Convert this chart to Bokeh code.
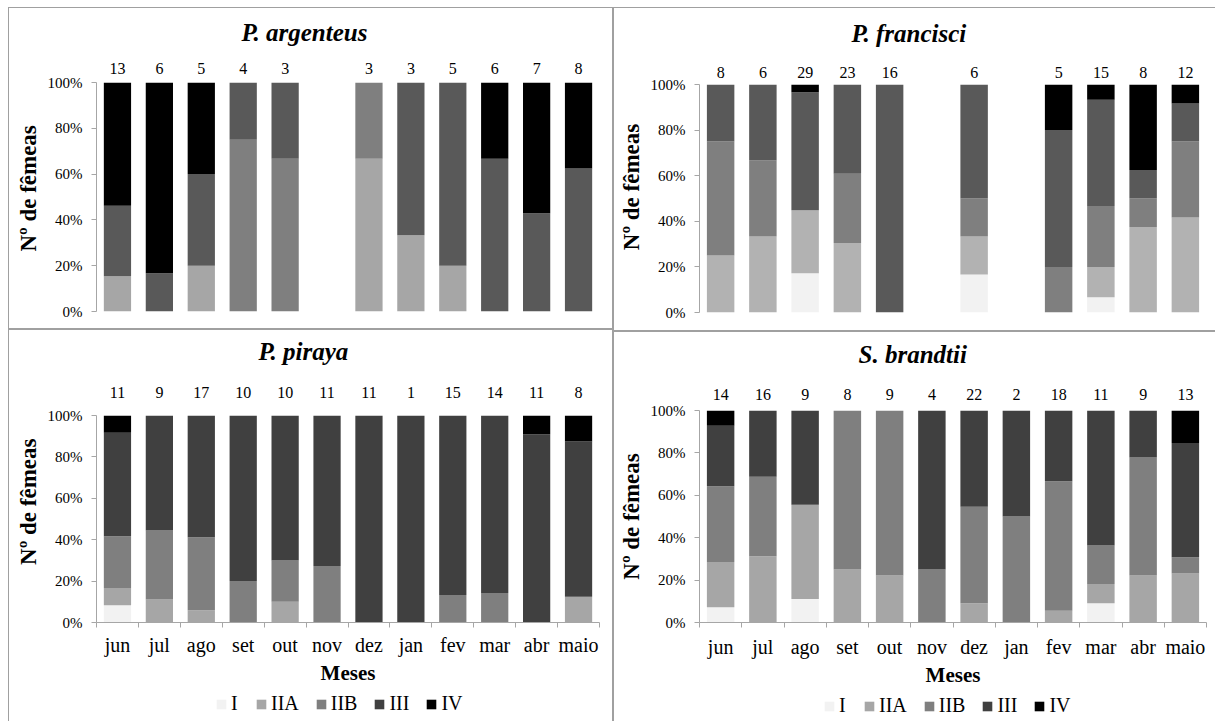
from bokeh.plotting import figure
from bokeh.layouts import row, column, Spacer
from bokeh.models import (Range1d, FixedTicker, LinearAxis, NumeralTickFormatter,
                          Legend, LegendItem, Title, ColumnDataSource)
from bokeh.embed import file_html
from bokeh.resources import INLINE

months = ["jun", "jul", "ago", "set", "out", "nov", "dez", "jan", "fev", "mar", "abr", "maio"]
stages = ["I", "IIA", "IIB", "III", "IV"]

# P. argenteus (number of females per stage, per month; None = no sample)
arg_n = [13, 6, 5, 4, 3, None, 3, 3, 5, 6, 7, 8]
arg_I = [0, 0, 0, 0, 0, 0, 0, 0, 0, 0, 0, 0]
arg_IIA = [2, 0, 1, 0, 0, 0, 2, 1, 1, 0, 0, 0]
arg_IIB = [0, 0, 0, 3, 2, 0, 1, 0, 0, 0, 0, 0]
arg_III = [4, 1, 2, 1, 1, 0, 0, 2, 4, 4, 3, 5]
arg_IV = [7, 5, 2, 0, 0, 0, 0, 0, 0, 2, 4, 3]

# P. francisci
fra_n = [8, 6, 29, 23, 16, None, 6, None, 5, 15, 8, 12]
fra_I = [0, 0, 5, 0, 0, 0, 1, 0, 0, 1, 0, 0]
fra_IIA = [2, 2, 8, 7, 0, 0, 1, 0, 0, 2, 3, 5]
fra_IIB = [4, 2, 0, 7, 0, 0, 1, 0, 1, 4, 1, 4]
fra_III = [2, 2, 15, 9, 16, 0, 3, 0, 3, 7, 1, 2]
fra_IV = [0, 0, 1, 0, 0, 0, 0, 0, 1, 1, 3, 1]

# P. piraya
pir_n = [11, 9, 17, 10, 10, 11, 11, 1, 15, 14, 11, 8]
pir_I = [1, 0, 0, 0, 0, 0, 0, 0, 0, 0, 0, 0]
pir_IIA = [1, 1, 1, 0, 1, 0, 0, 0, 0, 0, 0, 1]
pir_IIB = [3, 3, 6, 2, 2, 3, 0, 0, 2, 2, 0, 0]
pir_III = [6, 5, 10, 8, 7, 8, 11, 1, 13, 12, 10, 6]
pir_IV = [1, 0, 0, 0, 0, 0, 0, 0, 0, 0, 1, 1]

# S. brandtii
bra_n = [14, 16, 9, 8, 9, 4, 22, 2, 18, 11, 9, 13]
bra_I = [1, 0, 1, 0, 0, 0, 0, 0, 0, 1, 0, 0]
bra_IIA = [3, 5, 4, 2, 2, 0, 2, 0, 1, 1, 2, 3]
bra_IIB = [5, 6, 0, 6, 7, 1, 10, 1, 11, 2, 5, 1]
bra_III = [4, 5, 4, 0, 0, 3, 10, 1, 6, 7, 2, 7]
bra_IV = [1, 0, 0, 0, 0, 0, 0, 0, 0, 0, 0, 2]

pal_top = ["#f2f2f2", "#a6a6a6", "#7f7f7f", "#595959", "#000000"]
pal_fra = ["#f2f2f2", "#b2b2b2", "#7f7f7f", "#595959", "#000000"]
pal_bot = ["#f2f2f2", "#a6a6a6", "#7f7f7f", "#404040", "#000000"]

FONT = "Liberation Serif"
AXIS_GRAY = "#a6a6a6"
LINE = "1px solid #a0a0a0"
YLABEL = "Nº de fêmeas"


def border_styles(sides):
    st = {"border-" + side: LINE for side in sides}
    st["box-sizing"] = "border-box"
    return st


def make_source(counts):
    pos = list(range(1, len(months) + 1))
    totals = [sum(col) for col in zip(*counts)]
    data = {"x": pos}
    for s, c in zip(stages, counts):
        data[s] = [(v / t if t else 0.0) for v, t in zip(c, totals)]
    return ColumnDataSource(data)


def make_panel(title, n, src, palette, width, height, mb, title_offset,
               bottom_axis, count_standoff, gap_px, border_sides, ylab_pad, month_standoff=6):
    pos = list(range(1, len(months) + 1))
    p = figure(width=width, height=height, x_range=Range1d(0.5, len(months) + 0.5),
               y_range=Range1d(0, 1), output_backend="svg", toolbar_location=None,
               title=None, x_axis_location=("below" if bottom_axis else None),
               min_border_left=mb[0], min_border_right=mb[1],
               min_border_top=mb[2], min_border_bottom=mb[3],
               styles=border_styles(border_sides))
    p.grid.visible = False
    p.outline_line_color = None
    p.background_fill_color = "white"
    p.border_fill_color = "white"

    xa = p.below[0] if bottom_axis else None
    ya = p.left[0]

    p.vbar_stack(stages, x="x", width=0.65, color=palette, line_color=None, source=src)

    ya.ticker = FixedTicker(ticks=[0, 0.2, 0.4, 0.6, 0.8, 1.0])
    ya.formatter = NumeralTickFormatter(format="0%")
    ya.axis_line_color = AXIS_GRAY
    ya.major_tick_line_color = AXIS_GRAY
    ya.major_tick_out = 5
    ya.major_tick_in = 0
    ya.minor_tick_line_color = None
    ya.major_label_text_font = FONT
    ya.major_label_text_font_size = "15px"
    ya.major_label_text_color = "black"
    ya.major_label_standoff = 9
    ya.axis_label = "\u00a0" * ylab_pad + YLABEL
    ya.axis_label_text_font = FONT
    ya.axis_label_text_font_style = "bold"
    ya.axis_label_text_font_size = "23px"
    ya.axis_label_text_color = "black"
    ya.axis_label_standoff = 4

    # sample sizes above the bars
    ca = LinearAxis(ticker=FixedTicker(ticks=pos),
                    major_label_overrides={x: ("" if v is None else str(v)) for x, v in zip(pos, n)},
                    axis_line_color=None, major_tick_line_color=None, minor_tick_line_color=None,
                    major_label_text_font=FONT, major_label_text_font_size="16px",
                    major_label_text_color="black", major_label_standoff=count_standoff)
    if gap_px:
        ca.axis_label = " "
        ca.axis_label_text_font_size = gap_px
        ca.axis_label_standoff = 0
    p.add_layout(ca, "above")

    p.add_layout(Title(text=title, align="left", offset=title_offset, text_font=FONT,
                       text_font_style="bold italic", text_font_size="25px",
                       text_color="black"), "above")

    if bottom_axis:
        xa.ticker = FixedTicker(ticks=pos, minor_ticks=[x - 0.5 for x in pos] + [pos[-1] + 0.5])
        xa.major_label_overrides = {x: m for x, m in zip(pos, months)}
        xa.axis_line_color = AXIS_GRAY
        xa.major_tick_line_color = None
        xa.minor_tick_line_color = AXIS_GRAY
        xa.minor_tick_out = 5
        xa.minor_tick_in = 0
        xa.major_tick_out = 0
        xa.major_tick_in = 0
        xa.major_label_text_font = FONT
        xa.major_label_text_font_size = "20px"
        xa.major_label_text_color = "black"
        xa.major_label_standoff = month_standoff
        xa.axis_label = "Meses"
        xa.axis_label_text_font = FONT
        xa.axis_label_text_font_style = "bold"
        xa.axis_label_text_font_size = "21px"
        xa.axis_label_text_color = "black"
        xa.axis_label_standoff = 2
    return p


def make_legend(src, palette, width, height, loc, border_sides):
    # stage key: same stacked bars, kept outside the visible y window, only used by the legend
    lf = figure(width=width, height=height, output_backend="svg", toolbar_location=None,
                title=None, x_axis_location=None, y_axis_location=None, min_border=0,
                x_range=Range1d(0.5, len(months) + 0.5), y_range=Range1d(2, 3),
                styles=border_styles(border_sides))
    lf.grid.visible = False
    lf.outline_line_color = None
    lf.background_fill_color = "white"
    lf.border_fill_color = "white"
    rs = lf.vbar_stack(stages, x="x", width=0.65, color=palette, line_color=None, source=src)
    items = [LegendItem(label=s, renderers=[r]) for s, r in zip(stages, rs)]
    leg = Legend(items=items, orientation="horizontal", location=loc,
                 glyph_width=12, glyph_height=12, label_standoff=4, spacing=16,
                 label_width=8, label_text_font=FONT, label_text_font_size="20px",
                 label_text_color="black", border_line_color=None,
                 background_fill_alpha=0, padding=0, margin=0)
    lf.add_layout(leg)
    return lf


arg_src = make_source([arg_I, arg_IIA, arg_IIB, arg_III, arg_IV])
fra_src = make_source([fra_I, fra_IIA, fra_IIB, fra_III, fra_IV])
pir_src = make_source([pir_I, pir_IIA, pir_IIB, pir_III, pir_IV])
bra_src = make_source([bra_I, bra_IIA, bra_IIB, bra_III, bra_IV])

tl = make_panel("P. argenteus", arg_n, arg_src, pal_top,
                605, 322, (86, 15, 74, 19), 145, False, 3, "6px",
                ["left", "top", "right", "bottom"], 3)
tr = make_panel("P. francisci", fra_n, fra_src, pal_fra,
                602, 324, (84, 10, 76, 20), 152, False, 1, "8px",
                ["left", "top", "bottom"], 4)
bl = make_panel("P. piraya", pir_n, pir_src, pal_bot,
                605, 361, (87, 11, 85, 69), 162, True, 12, "10px",
                ["left", "top", "right"], 6)
br = make_panel("S. brandtii", bra_n, bra_src, pal_bot,
                602, 359, (85, 6, 78, 69), 159, True, 5, "9px",
                ["left", "top"], 0, month_standoff=8)
bl_leg = make_legend(pir_src, pal_bot, 605, 31, (119, 6), ["left", "right"])
br_leg = make_legend(bra_src, pal_bot, 602, 31, (124, 4), ["left"])

layout = column(Spacer(height=7),
                row(Spacer(width=8),
                    column(tl, bl, bl_leg, spacing=0),
                    column(tr, br, br_leg, spacing=0), spacing=0),
                spacing=0)

open("out.html", "w").write(file_html(layout, INLINE))
